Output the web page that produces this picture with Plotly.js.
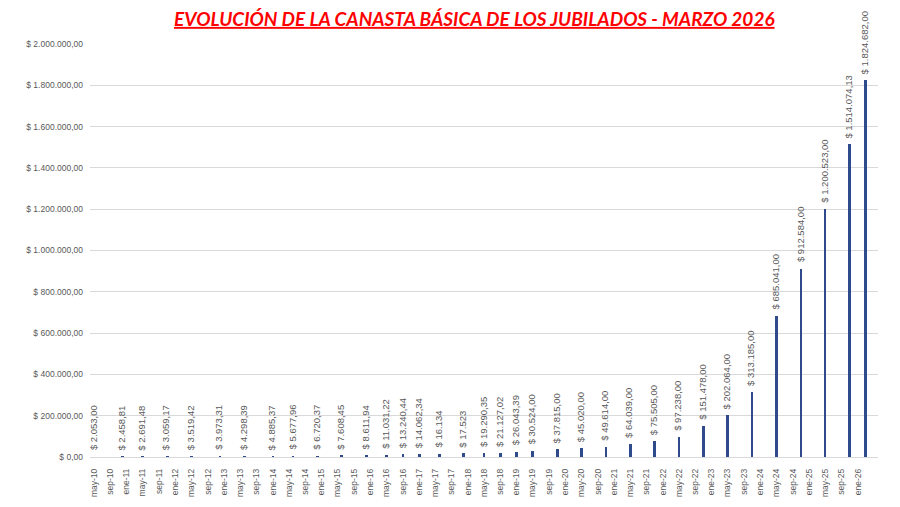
<!DOCTYPE html>
<html>
<head>
<meta charset="utf-8">
<script src="https://cdn.plot.ly/plotly-3.0.1.min.js"></script>
<style>
  body { margin: 0; background: #fff; }
  #chart { width: 900px; height: 507px; }
</style>
</head>
<body>
<div id="chart"></div>
<script>
// fechas de cada relevamiento
const fechas = [
  '2010-05-01', '2010-12-01', '2011-05-01', '2011-11-01', '2012-05-01', '2012-12-01',
  '2013-06-01', '2014-01-01', '2014-06-01', '2014-12-01', '2015-06-01', '2015-12-01',
  '2016-05-01', '2016-09-01', '2017-01-01', '2017-06-01', '2017-12-01', '2018-05-01',
  '2018-09-01', '2019-01-01', '2019-05-01', '2019-11-01', '2020-05-01', '2020-11-01',
  '2021-05-01', '2021-11-01', '2022-05-01', '2022-11-01', '2023-05-01', '2023-11-01',
  '2024-05-01', '2024-11-01', '2025-05-01', '2025-11-01', '2026-03-01'
];
const valores = [
  2053.00, 2458.81, 2691.48, 3059.17, 3519.42, 3973.31,
  4298.39, 4885.37, 5677.96, 6720.37, 7608.45, 8611.94,
  11031.22, 13240.44, 14062.34, 16134, 17523, 19290.35,
  21127.02, 26043.39, 30524.00, 37815.00, 45020.00, 49614.00,
  64039.00, 75505.00, 97238.00, 151478.00, 202064.00, 313185.00,
  685041.00, 912584.00, 1200523.00, 1514074.13, 1824682.00
];
const etiquetas = [
  '$ 2.053,00', '$ 2.458,81', '$ 2.691,48', '$ 3.059,17', '$ 3.519,42', '$ 3.973,31',
  '$ 4.298,39', '$ 4.885,37', '$ 5.677,96', '$ 6.720,37', '$ 7.608,45', '$ 8.611,94',
  '$ 11.031,22', '$ 13.240,44', '$ 14.062,34', '$ 16.134', '$ 17.523', '$ 19.290,35',
  '$ 21.127,02', '$ 26.043,39', '$ 30.524,00', '$ 37.815,00', '$ 45.020,00', '$ 49.614,00',
  '$ 64.039,00', '$ 75.505,00', '$ 97.238,00', '$ 151.478,00', '$ 202.064,00', '$ 313.185,00',
  '$ 685.041,00', '$ 912.584,00', '$ 1.200.523,00', '$ 1.514.074,13', '$ 1.824.682,00'
];

// marcas del eje x, cada 4 meses
const ticksX = [];
const ticksTexto = [];
const meses = { 1: 'ene', 5: 'may', 9: 'sep' };
for (let a = 2010; a <= 2026; a++) {
  [1, 5, 9].forEach(m => {
    if ((a === 2010 && m < 5) || (a === 2026 && m > 1)) return;
    ticksX.push(a + '-' + String(m).padStart(2, '0') + '-01');
    ticksTexto.push(meses[m] + '-' + String(a).slice(2));
  });
}

const ticksY = [0, 200000, 400000, 600000, 800000, 1000000, 1200000, 1400000, 1600000, 1800000, 2000000];
const ticksYTexto = [
  '$ 0,00', '$ 200.000,00', '$ 400.000,00', '$ 600.000,00', '$ 800.000,00', '$ 1.000.000,00',
  '$ 1.200.000,00', '$ 1.400.000,00', '$ 1.600.000,00', '$ 1.800.000,00', '$ 2.000.000,00'
];

const data = [{
  type: 'bar',
  x: fechas,
  y: valores,
  width: 20 * 86400000,
  marker: { color: '#2F4B8C', line: { width: 0 } },
  hoverinfo: 'x+y'
}];

// etiquetas de valor, verticales sobre cada barra
const anotaciones = fechas.map((f, i) => ({
  x: f,
  y: valores[i],
  xref: 'x',
  yref: 'y',
  text: etiquetas[i],
  showarrow: false,
  textangle: -90,
  xanchor: 'center',
  yanchor: 'bottom',
  yshift: 4,
  xshift: -1,
  font: { family: 'Liberation Sans, Arial, sans-serif', size: 9.5, color: '#595959' }
}));

const layout = {
  width: 900,
  height: 507,
  margin: { l: 90, r: 22, t: 44, b: 50 },
  paper_bgcolor: '#ffffff',
  plot_bgcolor: '#ffffff',
  showlegend: false,
  annotations: anotaciones,
  title: {
    text: '<b><i><u>EVOLUCIÓN DE LA CANASTA BÁSICA DE LOS JUBILADOS - MARZO 2026</u></i></b>',
    font: { family: 'Lato, Liberation Sans, sans-serif', size: 19, color: '#FF0000' },
    x: 0.527,
    xanchor: 'center',
    y: 0.962,
    yanchor: 'middle'
  },
  xaxis: {
    type: 'date',
    range: ['2010-04-01', '2026-06-01'],
    tickmode: 'array',
    tickvals: ticksX,
    ticktext: ticksTexto,
    tickangle: -90,
    tickfont: { family: 'Liberation Sans, Arial, sans-serif', size: 8.5, color: '#595959' },
    ticklabelstandoff: 9,
    showgrid: false,
    zeroline: false,
    showline: false,
    ticks: ''
  },
  yaxis: {
    range: [0, 2000000],
    tickmode: 'array',
    tickvals: ticksY,
    ticktext: ticksYTexto,
    tickfont: { family: 'Liberation Sans, Arial, sans-serif', size: 8.5, color: '#595959' },
    ticklabelstandoff: 6,
    gridcolor: '#D9D9D9',
    gridwidth: 1,
    zeroline: true,
    zerolinecolor: '#D9D9D9',
    showline: false,
    ticks: ''
  },
  bargap: 0
};

Plotly.newPlot('chart', data, layout, { displayModeBar: false, staticPlot: true });
</script>
</body>
</html>
